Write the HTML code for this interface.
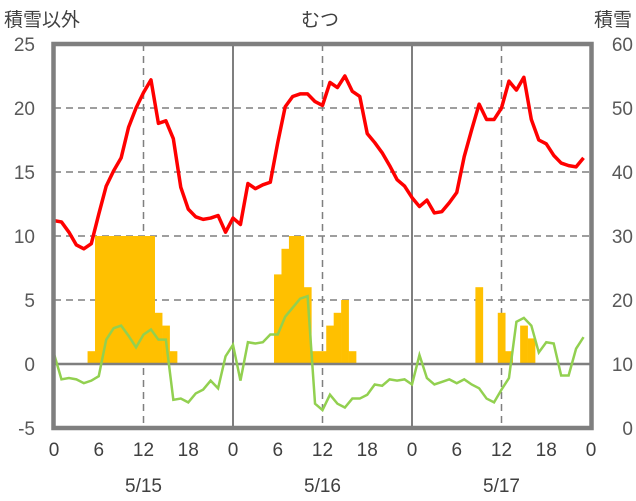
<!DOCTYPE html>
<html><head><meta charset="utf-8"><style>
html,body{margin:0;padding:0;background:#fff;}
svg{display:block;font-family:"Liberation Sans","Noto Sans CJK JP",sans-serif;}
</style></head><body>
<svg id="chart" width="636" height="501" viewBox="0 0 636 501">
<text x="4" y="26" font-size="19" fill="#404040">積雪以外</text>
<text x="320" y="26" font-size="19" fill="#404040" text-anchor="middle">むつ</text>
<text x="632" y="26" font-size="19" fill="#404040" text-anchor="end">積雪</text>
<g id="grid"></g>
<g id="bars"></g>
<g id="lines"></g>
<g id="axes"></g>
</svg>
<script>
const hours = Array.from({length:72},(_,i)=>i);
const tempValues = [11.2,11.1,10.3,9.3,9.0,9.4,11.7,13.9,15.1,16.1,18.5,20.0,21.2,22.2,18.8,19.0,17.6,13.8,12.1,11.5,11.3,11.4,11.6,10.3,
11.4,10.9,14.1,13.7,14.0,14.2,17.3,20.1,20.9,21.1,21.1,20.5,20.2,22.0,21.6,22.5,21.3,20.9,18.0,17.3,16.5,15.5,14.4,13.9,
13.0,12.3,12.8,11.8,11.9,12.6,13.4,16.2,18.3,20.3,19.1,19.1,20.0,22.1,21.4,22.4,19.1,17.5,17.2,16.3,15.7,15.5,15.4,16.1];
const otherValues = [0.8,-1.2,-1.1,-1.2,-1.5,-1.3,-0.95,1.9,2.8,3.0,2.2,1.3,2.3,2.7,1.9,1.9,-2.8,-2.7,-3.0,-2.3,-2.0,-1.3,-1.9,0.6,
1.5,-1.3,1.7,1.6,1.7,2.3,2.3,3.7,4.4,5.1,5.3,-3.1,-3.6,-2.4,-3.1,-3.4,-2.7,-2.7,-2.4,-1.6,-1.7,-1.2,-1.3,-1.2,
-1.6,0.7,-1.1,-1.6,-1.4,-1.2,-1.5,-1.2,-1.6,-1.9,-2.7,-3.0,-2.0,-1.1,3.3,3.6,3.0,0.9,1.7,1.6,-0.9,-0.9,1.2,2.1];
const snowHours = [5,6,7,8,9,10,11,12,13,14,15,16,30,31,32,33,34,35,36,37,38,39,40,57,60,61,63,64];
const snowValues = [12,30,30,30,30,30,30,30,30,18,16,12,24,28,30,30,22,12,12,16,18,20,12,22,18,12,16,14];
const leftTicks = [-5,0,5,10,15,20,25];
const rightTicks = [0,10,20,30,40,50,60];
const xTickLabels = ["0","6","12","18","0","6","12","18","0","6","12","18","0"];
const dateLabels = ["5/15","5/16","5/17"];

const X0=54, X1=591, Y0=428, Y1=44;
const x = h => X0 + (X1-X0)*h/72;
const yL = v => Y0 - (Y0-Y1)*(v+5)/30;
const yR = v => Y0 - (Y0-Y1)*v/60;
const NS="http://www.w3.org/2000/svg";
function mk(tag, parent){const e=document.createElementNS(NS,tag);document.getElementById(parent).appendChild(e);return e;}

// grid
[5,10,15,20].forEach(v=>{
  const l=mk('line','grid');
  
  
  l.setAttribute('x1',X0);l.setAttribute('x2',X1);l.setAttribute('y1',yL(v));l.setAttribute('y2',yL(v));
  l.setAttribute('stroke','#7f7f7f');l.setAttribute('stroke-width','1.5');l.setAttribute('stroke-dasharray','7,5');
});
[12,36,60].forEach(h=>{
  const l=mk('line','grid');
  
  
  l.setAttribute('x1',x(h));l.setAttribute('x2',x(h));l.setAttribute('y1',Y1);l.setAttribute('y2',Y0);
  l.setAttribute('stroke','#7f7f7f');l.setAttribute('stroke-width','1.5');l.setAttribute('stroke-dasharray','7,5');
});
[24,48].forEach(h=>{
  const l=mk('line','grid');
  
  
  l.setAttribute('x1',x(h));l.setAttribute('x2',x(h));l.setAttribute('y1',Y1);l.setAttribute('y2',Y0);
  l.setAttribute('stroke','#7f7f7f');l.setAttribute('stroke-width','2');
});
// bars
const bw=(X1-X0)/72;
snowHours.forEach((h,i)=>{
  const r=mk('rect','bars');
  
  
  const top=yR(snowValues[i]), base=yR(10);
  r.setAttribute('x',x(h)-bw/2);r.setAttribute('width',bw+0.3);
  r.setAttribute('y',Math.min(top,base));r.setAttribute('height',Math.abs(base-top));
  r.setAttribute('fill','#ffc000');
});
// zero line
const z=mk('line','lines');


z.setAttribute('x1',X0);z.setAttribute('x2',X1);z.setAttribute('y1',yL(0));z.setAttribute('y2',yL(0));
z.setAttribute('stroke','#7f7f7f');z.setAttribute('stroke-width','2.5');
// lines
const g=mk('polyline','lines');


g.setAttribute('points',otherValues.map((v,i)=>x(hours[i])+','+yL(v)).join(' '));
g.setAttribute('fill','none');g.setAttribute('stroke','#92d050');g.setAttribute('stroke-width','2.5');
const t=mk('polyline','lines');


t.setAttribute('points',tempValues.map((v,i)=>x(hours[i])+','+yL(v)).join(' '));
t.setAttribute('fill','none');t.setAttribute('stroke','#ff0000');t.setAttribute('stroke-width','3.5');t.setAttribute('stroke-linejoin','round');
// frame
const f=mk('rect','axes');


f.setAttribute('x',X0-0.5);f.setAttribute('y',Y1);f.setAttribute('width',X1-X0+1);f.setAttribute('height',Y0-Y1);
f.setAttribute('fill','none');f.setAttribute('stroke','#7f7f7f');f.setAttribute('stroke-width','4.5');
// ticks
leftTicks.forEach(v=>{
  const e=mk('text','axes');
  
  
  e.setAttribute('x',35);e.setAttribute('y',yL(v)+7);e.setAttribute('text-anchor','end');
  e.setAttribute('font-size','19');e.setAttribute('fill','#595959');e.textContent=v;
});
rightTicks.forEach(v=>{
  const e=mk('text','axes');
  
  
  e.setAttribute('x',633);e.setAttribute('y',yR(v)+7);e.setAttribute('text-anchor','end');
  e.setAttribute('font-size','19');e.setAttribute('fill','#595959');e.textContent=v;
});
xTickLabels.forEach((s,i)=>{
  const e=mk('text','axes');
  
  
  e.setAttribute('x',x(i*6));e.setAttribute('y',456);e.setAttribute('text-anchor','middle');
  e.setAttribute('font-size','19');e.setAttribute('fill','#404040');e.textContent=s;
});
dateLabels.forEach((s,i)=>{
  const e=mk('text','axes');
  
  
  e.setAttribute('x',x(i*24+12));e.setAttribute('y',492);e.setAttribute('text-anchor','middle');
  e.setAttribute('font-size','19');e.setAttribute('fill','#404040');e.textContent=s;
});
</script>
</body></html>
